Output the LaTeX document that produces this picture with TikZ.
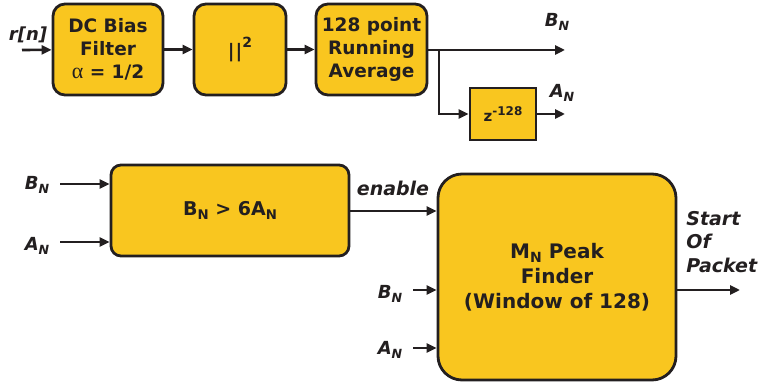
\documentclass[tikz,border=0pt]{standalone}
\usepackage{fontspec}
\setmainfont{DejaVu Sans}
\newfontfamily\greek{Liberation Serif}
\usetikzlibrary{arrows.meta}
\definecolor{boxfill}{RGB}{249,198,31}
\definecolor{ink}{RGB}{35,31,32}
\newcommand\Sb[1]{\raisebox{-0.35ex}{\fontsize{0.7em}{0.7em}\selectfont #1}}
\newcommand\Lab[2]{\textbf{\textit{#1\Sb{#2}}}}
\tikzset{
  blk/.style={draw=ink, line width=2.8pt, fill=boxfill, rounded corners=12pt, align=center,
    font=\fontsize{18.5}{23}\selectfont\bfseries, text=ink, inner sep=0pt},
  sqblk/.style={blk, rounded corners=0pt},
  sig/.style={line width=2.6pt, draw=ink, -{Triangle[length=10pt,width=9pt]}},
  lbl/.style={font=\fontsize{18}{20}\selectfont, text=ink, inner sep=0pt},
}
\begin{document}
\begin{tikzpicture}[x=1pt,y=-1pt]
\useasboundingbox (0,0) rectangle (763,382);
% top row
\node[blk, minimum width=110pt, minimum height=91pt] (dc) at (108,49.5) {DC Bias\\Filter\\{\greek\mdseries\fontsize{22}{22}\selectfont α} = 1/2};
\node[blk, minimum width=92pt, minimum height=91pt] (sq) at (240,49.5) {|\kern1pt|\raisebox{1.0ex}{\fontsize{14}{14}\selectfont 2}};
\node[blk, minimum width=111pt, minimum height=91pt] (avg) at (371.5,49.5) {128 point\\Running\\Average};
\node[sqblk, minimum width=66pt, minimum height=52pt, font=\fontsize{15}{17}\selectfont\bfseries] (z) at (503,114) {z\raisebox{0.8ex}{\fontsize{12}{12}\selectfont -128}};
\coordinate (rin) at (22,50);
\coordinate (br) at (439,50);
\coordinate (bout) at (565,50);
\coordinate (aout) at (565,114);
\node[lbl] (rn) at (28,35) {\textbf{\textit{r[n]}}};
\node[lbl] (bn1) at (557,22) {\Lab{B}{N}};
\node[lbl] (an1) at (562,93) {\Lab{A}{N}};
\draw[sig] (rin) -- (dc);
\draw[sig] (dc) -- (sq);
\draw[sig] (sq) -- (avg);
\draw[sig] (avg.east |- br) -- (bout);
\draw[sig] (br) |- (z.west);
\draw[sig] (z.east) -- (aout);
% bottom row
\node[blk, rounded corners=10pt, minimum width=238pt, minimum height=91pt, font=\fontsize{19}{23}\selectfont\bfseries] (cmp) at (230,210.5) {B\Sb{N} > 6A\Sb{N}};
\node[blk, rounded corners=24pt, minimum width=238pt, minimum height=206pt, font=\fontsize{20}{25}\selectfont\bfseries] (pk) at (557,277) {M\Sb{N} Peak\\Finder\\(Window of 128)};
\coordinate (bin) at (60,184);
\coordinate (ain) at (60,242);
\coordinate (bin2) at (413,290);
\coordinate (ain2) at (413,348);
\coordinate (sop) at (740,290);
\node[lbl] (bn2) at (37,185) {\Lab{B}{N}};
\node[lbl] (an2) at (37,246) {\Lab{A}{N}};
\node[lbl] (bn3) at (390,294) {\Lab{B}{N}};
\node[lbl] (an3) at (390,350) {\Lab{A}{N}};
\node[lbl, font=\fontsize{19}{20}\selectfont] (en) at (393,188) {\textbf{\textit{enable}}};
\node[lbl, align=left, font=\fontsize{19}{23.5}\selectfont] (st) at (722,242) {\textbf{\textit{Start}}\\\textbf{\textit{Of}}\\\textbf{\textit{Packet}}};
\draw[sig] (bin) -- (bin -| cmp.west);
\draw[sig] (ain) -- (ain -| cmp.west);
\draw[sig] (cmp.east |- 0,211) -- (pk.west |- 0,211);
\draw[sig] (bin2) -- (bin2 -| pk.west);
\draw[sig] (ain2) -- (ain2 -| pk.west);
\draw[sig] (pk.east |- sop) -- (sop);
\end{tikzpicture}
\end{document}
